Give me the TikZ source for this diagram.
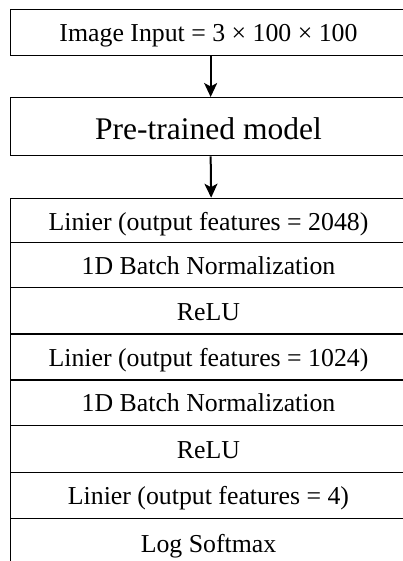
\documentclass[tikz,border=0pt]{standalone}
\usepackage{fontspec}
\setmainfont{Liberation Serif}
\usetikzlibrary{arrows.meta}
\begin{document}
\begin{tikzpicture}[x=1pt,y=-1pt,
  box/.style={draw=black,line width=1.3pt,minimum width=398pt,inner sep=0pt,anchor=north west},
  lbl/.style={anchor=base,inner sep=0pt,font=\fontsize{25.8}{30}\selectfont},
  flow/.style={-{Stealth[length=14pt,width=13pt,inset=3.5pt]},line width=2pt}]
\useasboundingbox (0,0) rectangle (403,561);
% input box
\node[box,minimum height=46pt] (inbox) at (9.5,9) {};
\node[lbl] (intext) at (208.5,41.7) {Image Input = 3 × 100 × 100};
% pre-trained model
\node[box,minimum height=58pt] (pmbox) at (9.5,97) {};
\node[lbl,font=\fontsize{31.5}{36}\selectfont] (pmtext) at (208.5,139.3) {Pre-trained model};
% stacked layers
\foreach \i/\top/\h/\base/\txt in {
  1/197.7/44/230/{Linier (output features = 2048)},
  2/241.7/45.3/274.3/{1D Batch Normalization},
  3/287/46.3/320/{ReLU},
  4/333.3/46/366/{Linier (output features = 1024)},
  5/379.3/45.7/411.7/{1D Batch Normalization},
  6/425/46.7/458/{ReLU},
  7/471.7/46/504.3/{Linier (output features = 4)},
  8/517.7/50/552.5/{Log Softmax}}{
  \node[box,minimum height=\h pt] (r\i) at (10,\top) {};
  \node[lbl] (t\i) at (208.5,\base) {\txt};
}
% arrows
\draw[flow] ([xshift=1.5pt]inbox.south) -- ([xshift=1.5pt]pmbox.north);
\draw[flow] ([xshift=1.5pt]pmbox.south) -- ([xshift=1.5pt]r1.north);
\end{tikzpicture}
\end{document}
